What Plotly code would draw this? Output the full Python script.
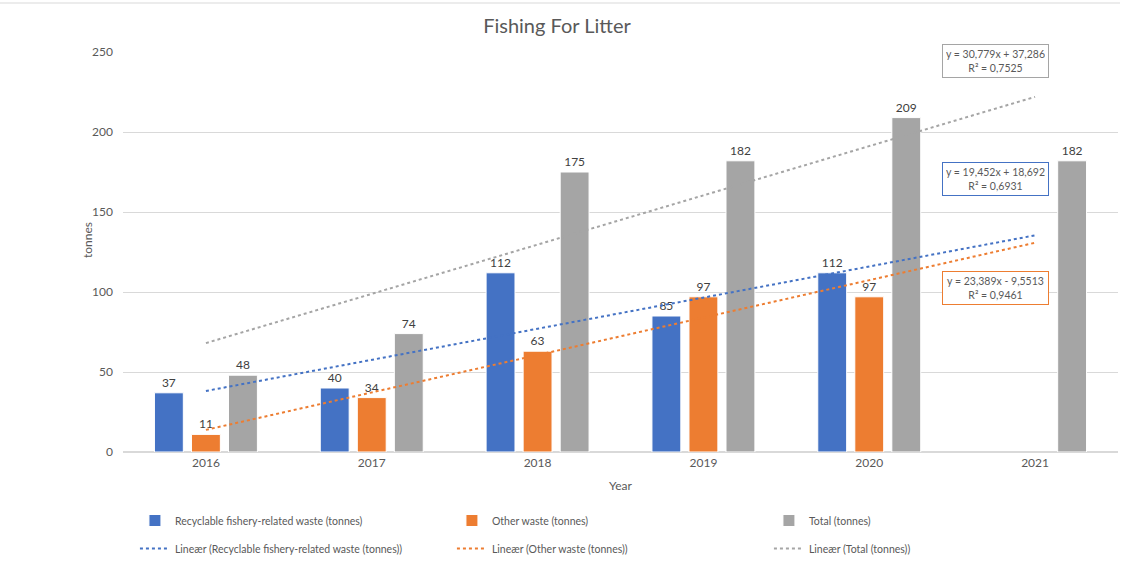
import plotly.graph_objects as go

years = ["2016", "2017", "2018", "2019", "2020", "2021"]
recyclable = [37, 40, 112, 85, 112, None]
other = [11, 34, 63, 97, 97, None]
total = [48, 74, 175, 182, 209, 182]

# Excel linear trendline coefficients (x = 1..6 category index)
trend_recyclable = (19.452, 18.692)
trend_other = (23.389, -9.5513)
trend_total = (30.779, 37.286)

eq_recyclable = "y = 19,452x + 18,692<br>R² = 0,6931"
eq_other = "y = 23,389x - 9,5513<br>R² = 0,9461"
eq_total = "y = 30,779x + 37,286<br>R² = 0,7525"

BLUE = "#4472C4"
ORANGE = "#ED7D31"
GRAY = "#A5A5A5"
TXT = "#595959"
FONT = "Lato"

def trend(coef):
    xs = [years[0], years[-1]]
    ys = [coef[0] * 1 + coef[1], coef[0] * len(years) + coef[1]]
    return xs, ys

fig = go.Figure()

for name, coef, col in [
    ("Lineær (Recyclable fishery-related waste (tonnes))", trend_recyclable, BLUE),
    ("Lineær (Other waste (tonnes))", trend_other, ORANGE),
    ("Lineær (Total (tonnes))", trend_total, GRAY),
]:
    xs, ys = trend(coef)
    fig.add_trace(go.Scatter(x=xs, y=ys, mode="lines", name=name,
                             line=dict(color=col, width=2, dash="dot"),
                             legend="legend2", hoverinfo="skip"))

for name, vals, col in [
    ("Recyclable fishery-related waste (tonnes)", recyclable, BLUE),
    ("Other waste (tonnes)", other, ORANGE),
    ("Total (tonnes)", total, GRAY),
]:
    fig.add_trace(go.Bar(x=years, y=vals, name=name, marker=dict(color=col, line=dict(color="white", width=1)),
                         text=[("" if v is None else str(v)) for v in vals], textposition="outside",
                         textfont=dict(color="#404040", size=12, family=FONT), cliponaxis=False,
                         legend="legend"))

fig.update_layout(
    width=1130, height=569,
    margin=dict(l=123, r=12, t=52, b=117, autoexpand=False),
    paper_bgcolor="white", plot_bgcolor="white",
    font=dict(family=FONT, color=TXT, size=12),
    title=dict(text="Fishing For Litter", x=557 / 1130, xanchor="center", y=0.955, yanchor="middle",
               font=dict(size=20, color=TXT, family=FONT)),
    barmode="group", bargap=0.33, bargroupgap=0.22,
    xaxis=dict(type="category", categoryorder="array", categoryarray=years,
               range=[-0.5, 5.5], showgrid=False,
               showline=True, linecolor="#D9D9D9", ticks="",
               tickfont=dict(size=12, color=TXT),
               title=dict(text="Year", font=dict(size=12, color=TXT), standoff=12)),
    yaxis=dict(range=[0, 250], dtick=50, showgrid=True, gridcolor="#D9D9D9",
               zeroline=True, zerolinecolor="#D9D9D9", showline=False,
               tickfont=dict(size=12, color=TXT), ticklabelstandoff=9),
    legend=dict(orientation="h", x=0.012, y=-0.135, xanchor="left", yanchor="top",
                entrywidth=272, entrywidthmode="pixels", traceorder="normal",
                font=dict(size=10.5, color=TXT), bgcolor="rgba(0,0,0,0)"),
    legend2=dict(orientation="h", x=0.012, y=-0.205, xanchor="left", yanchor="top",
                 entrywidth=272, entrywidthmode="pixels", traceorder="normal",
                 font=dict(size=10.5, color=TXT), bgcolor="rgba(0,0,0,0)"),
    showlegend=True,
)

fig.add_annotation(x=(87 - 123) / 995, y=(452 - 240) / 400, xref="paper", yref="paper",
                   xanchor="center", yanchor="middle", text="tonnes", textangle=-90,
                   showarrow=False, font=dict(size=12, color=TXT, family=FONT))

def eq_box(text, yc, col):
    fig.add_annotation(x=(995 - 123) / 995, y=(452 - yc) / 400, xref="paper", yref="paper",
                       xanchor="center", yanchor="middle",
                       text=text, showarrow=False, align="center",
                       font=dict(size=10.5, color=TXT, family=FONT),
                       bordercolor=col, borderwidth=1, borderpad=3, bgcolor="white",
                       width=99)

eq_box(eq_total, 61, "#A5A5A5")
eq_box(eq_recyclable, 179, BLUE)
eq_box(eq_other, 288, ORANGE)

fig.add_shape(type="line", xref="paper", yref="paper", x0=-0.124, x1=1.002,
              y0=(452 - 3) / 400, y1=(452 - 3) / 400, line=dict(color="#D9D9D9", width=1))

fig.write_html("out.html")
